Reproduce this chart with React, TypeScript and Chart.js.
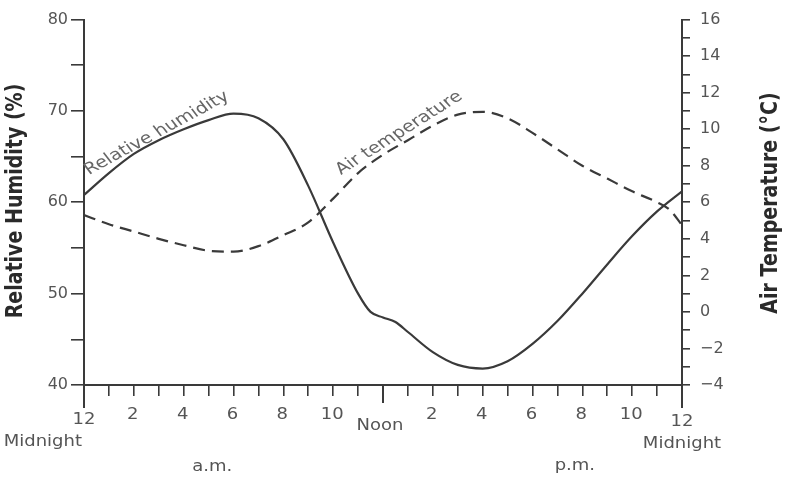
import React, { useEffect, useRef } from 'react';
import { Chart, registerables } from 'chart.js';

Chart.register(...registerables);

// ---- data ----
const humidityHours = [0, 1, 2, 3, 4, 5, 6, 7, 8, 9, 10, 11, 11.5, 12, 12.5, 13, 14, 15, 16, 17, 18, 19, 20, 21, 22, 23, 24];
const humidityValues = [60.8, 63.2, 65.3, 66.8, 68.0, 69.0, 69.7, 69.2, 66.9, 61.8, 55.6, 50.0, 48.0, 47.4, 46.9, 45.8, 43.6, 42.2, 41.8, 42.6, 44.5, 47.0, 50.0, 53.2, 56.3, 59.0, 61.2];

const temperatureHours = [0, 1, 2, 3, 4, 5, 6, 7, 8, 9, 10, 11, 12, 13, 14, 15, 16, 17, 18, 19, 20, 21, 22, 23, 23.5, 24];
const temperatureValues = [5.3, 4.8, 4.4, 4.0, 3.65, 3.35, 3.3, 3.6, 4.2, 4.9, 6.2, 7.6, 8.6, 9.4, 10.2, 10.8, 10.95, 10.6, 9.8, 8.9, 8.0, 7.3, 6.6, 6.0, 5.6, 4.75];

const xLabelHours = [2, 4, 6, 8, 10, 14, 16, 18, 20, 22];
const xLabelTexts = ['2', '4', '6', '8', '10', '2', '4', '6', '8', '10'];
const noonLabel = 'Noon';
const midnightTop = '12';
const midnightBottom = 'Midnight';
const amLabel = 'a.m.';
const pmLabel = 'p.m.';
const leftTitle = 'Relative Humidity (%)';
const rightTitle = 'Air Temperature (°C)';
const humidityName = 'Relative humidity';
const temperatureName = 'Air temperature';

const FONT = '"DejaVu Sans", sans-serif';
const INK = '#3a3a3a';
const TEXT = '#555';

function drawText(
  ctx: CanvasRenderingContext2D,
  text: string,
  x: number,
  y: number,
  o: { align?: CanvasTextAlign; baseline?: CanvasTextBaseline; size?: number; bold?: boolean; rot?: number; sx?: number; color?: string }
) {
  ctx.save();
  ctx.translate(x, y);
  ctx.scale(o.sx ?? 1.2, 1);
  ctx.rotate(o.rot ?? 0);
  ctx.font = `${o.bold ? 'bold ' : ''}${o.size ?? 15}px ${FONT}`;
  ctx.fillStyle = o.color ?? TEXT;
  ctx.textAlign = o.align ?? 'center';
  ctx.textBaseline = o.baseline ?? 'middle';
  ctx.fillText(text, 0, 0);
  ctx.restore();
}

const decorPlugin = {
  id: 'decor',
  afterDraw(chart: any) {
    const ctx: CanvasRenderingContext2D = chart.ctx;
    const xs = chart.scales.x;
    const area = chart.chartArea;
    const bottom = area.bottom;

    // long ticks at midnight / noon / midnight
    ctx.save();
    ctx.strokeStyle = INK;
    ctx.lineWidth = 2;
    const longTicks: [number, number][] = [[0, 23], [12, 18], [24, 23]];
    longTicks.forEach(([h, len]) => {
      const px = xs.getPixelForValue(h);
      ctx.beginPath();
      ctx.moveTo(px, bottom);
      ctx.lineTo(px, bottom + len);
      ctx.stroke();
    });
    ctx.restore();

    // hour labels
    xLabelHours.forEach((h, i) => {
      drawText(ctx, xLabelTexts[i], xs.getPixelForValue(h) - 1, bottom + 30, {});
    });
    drawText(ctx, noonLabel, xs.getPixelForValue(12) - 3, bottom + 41, {});
    const x0 = xs.getPixelForValue(0);
    const x24 = xs.getPixelForValue(24);
    drawText(ctx, midnightTop, x0, bottom + 35, {});
    drawText(ctx, midnightBottom, x0 - 2, bottom + 57, { align: 'right' });
    drawText(ctx, midnightTop, x24, bottom + 37, {});
    drawText(ctx, midnightBottom, x24, bottom + 59, {});
    drawText(ctx, amLabel, xs.getPixelForValue(5.15), bottom + 82, {});
    drawText(ctx, pmLabel, xs.getPixelForValue(19.7), bottom + 81, {});

    // axis titles
    drawText(ctx, leftTitle, 16, 201, { rot: -Math.PI / 2, bold: true, size: 19, color: '#2a2a2a' });
    drawText(ctx, rightTitle, 771, 203, { rot: -Math.PI / 2, bold: true, size: 19, color: '#2a2a2a' });

    // curve annotations
    drawText(ctx, humidityName, 89, 175, { align: 'left', baseline: 'alphabetic', size: 16, rot: (-33 * Math.PI) / 180, color: '#666' });
    drawText(ctx, temperatureName, 341, 175, { align: 'left', baseline: 'alphabetic', size: 16, rot: (-37 * Math.PI) / 180, color: '#666' });
  },
};

export default function App() {
  const ref = useRef<HTMLCanvasElement | null>(null);

  useEffect(() => {
    if (!ref.current) return;
    const chart = new Chart(ref.current, {
      type: 'line',
      data: {
        datasets: [
          {
            label: humidityName,
            data: humidityHours.map((h, i) => ({ x: h, y: humidityValues[i] })),
            yAxisID: 'y',
            borderColor: INK,
            borderWidth: 2.2,
            pointRadius: 0,
            fill: false,
            cubicInterpolationMode: 'monotone',
          },
          {
            label: temperatureName,
            data: temperatureHours.map((h, i) => ({ x: h, y: temperatureValues[i] })),
            yAxisID: 'y1',
            borderColor: INK,
            borderWidth: 2.2,
            borderDash: [12, 7],
            pointRadius: 0,
            fill: false,
            cubicInterpolationMode: 'monotone',
          },
        ],
      },
      options: {
        responsive: false,
        animation: false,
        devicePixelRatio: 1,
        layout: { padding: { top: 16, left: 0, right: 0, bottom: 0 } },
        plugins: { legend: { display: false }, tooltip: { enabled: false } },
        scales: {
          x: {
            type: 'linear',
            min: 0,
            max: 24,
            ticks: { stepSize: 1, display: false, autoSkip: false },
            grid: { display: true, drawOnChartArea: false, drawTicks: true, tickLength: 11, color: INK, lineWidth: 1.6 },
            border: { display: true, color: INK, width: 2 },
            afterFit: (s: any) => { s.height = 96; },
          },
          y: {
            position: 'left',
            min: 40,
            max: 80,
            ticks: {
              stepSize: 5,
              autoSkip: false,
              padding: 3,
              color: TEXT,
              font: { family: FONT, size: 16 },
              callback: (v: any) => (Number(v) % 10 === 0 ? String(v) : ''),
            },
            grid: { drawOnChartArea: false, drawTicks: true, tickLength: 13, color: INK, lineWidth: 1.6 },
            border: { display: true, color: INK, width: 2 },
            afterFit: (s: any) => { s.width = 84; },
          },
          y1: {
            position: 'right',
            min: -4,
            max: 16,
            ticks: {
              stepSize: 1,
              autoSkip: false,
              padding: 10,
              color: TEXT,
              font: { family: FONT, size: 16 },
              callback: (v: any) => {
                const n = Number(v);
                if (n % 2 !== 0) return '';
                return n < 0 ? '−' + Math.abs(n) : String(n);
              },
            },
            grid: { drawOnChartArea: false, drawTicks: true, tickLength: 8, color: INK, lineWidth: 1.6 },
            border: { display: true, color: INK, width: 2 },
            afterFit: (s: any) => { s.width = 111; },
          },
        },
      },
      plugins: [decorPlugin],
    } as any);
    return () => chart.destroy();
  }, []);

  return (
    <div style={{ position: 'fixed', left: 0, top: 0, width: 793, height: 481, background: '#fff' }}>
      <canvas ref={ref} width={793} height={481} style={{ display: 'block', width: 793, height: 481 }} />
    </div>
  );
}
